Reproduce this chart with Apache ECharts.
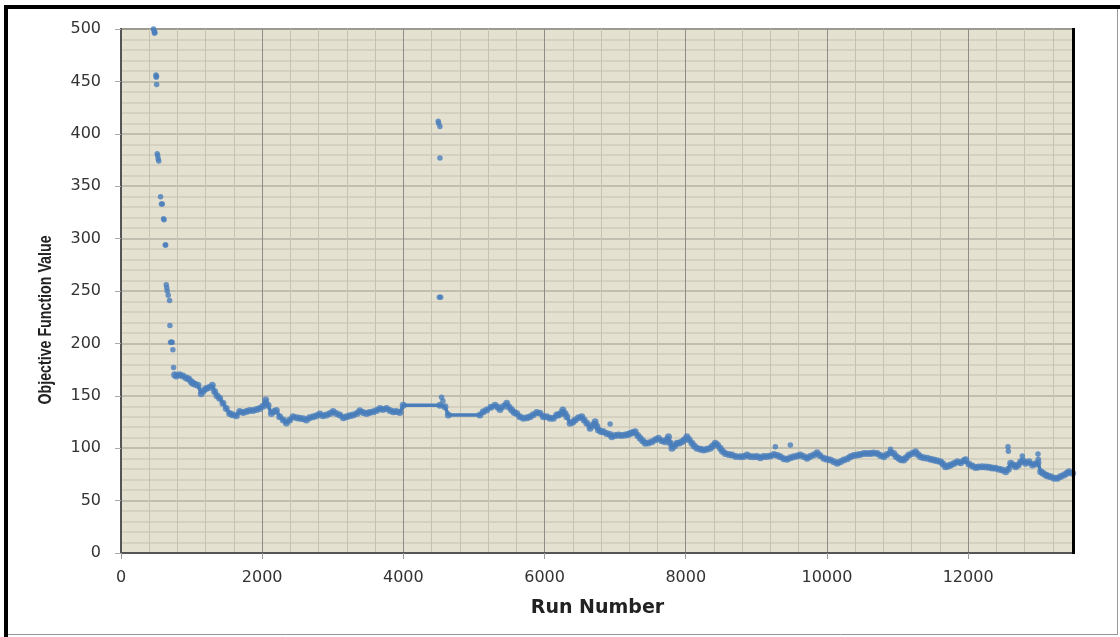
<!DOCTYPE html>
<html><head><meta charset="utf-8">
<script src="https://cdn.jsdelivr.net/npm/echarts@6/dist/echarts.min.js"></script>
<style>html,body{margin:0;padding:0;background:#fff}#c{width:1120px;height:637px}</style>
</head><body><div id="c"></div>
<script>
// Main band of runs (run number, objective value)
const bandRuns = [760,783,830,877,925,960,996,1019,1050,1090,1137,1170,1208,1250,1293,1326,1360,1397,1444,1491,1539,1580,1634,1681,1730,1776,1820,1870,1920,1965,2010,2050,2083,2130,2170,2201,2248,2300,2343,2390,2437,2490,2532,2580,2627,2670,2721,2770,2816,2860,2910,2960,3004,3050,3099,3150,3194,3240,3288,3340,3383,3430,3478,3520,3572,3620,3667,3710,3762,3810,3855,3900,3950,3998,4518,4589,4636,5085,5132,5180,5240,5298,5340,5369,5420,5464,5500,5535,5570,5605,5650,5700,5750,5794,5840,5889,5936,5983,6031,6078,6125,6173,6196,6230,6258,6290,6315,6362,6400,6433,6480,6528,6560,6599,6645,6680,6716,6740,6763,6800,6834,6880,6929,6953,7000,7047,7090,7142,7180,7213,7250,7284,7320,7355,7390,7426,7470,7521,7570,7614,7660,7709,7730,7756,7780,7804,7840,7875,7910,7946,7980,8017,8050,8088,8120,8159,8210,8252,8300,8348,8380,8418,8450,8489,8520,8560,8610,8655,8710,8773,8820,8868,8910,8962,9010,9057,9100,9151,9200,9250,9300,9341,9390,9435,9482,9529,9580,9624,9670,9719,9760,9813,9860,9900,9955,10000,10050,10100,10145,10190,10238,10290,10333,10380,10428,10470,10522,10570,10617,10660,10712,10760,10806,10850,10901,10947,10980,11018,11050,11089,11120,11160,11210,11255,11290,11326,11370,11421,11470,11515,11560,11610,11645,11681,11720,11752,11800,11847,11894,11940,11965,12011,12060,12106,12150,12201,12250,12295,12340,12390,12440,12485,12532,12570,12603,12640,12674,12710,12745,12780,12816,12863,12910,12950,12990,13028,13060,13099,13130,13170,13217,13265,13310,13358,13400,13430,13480];
const bandValues = [170,169,170,169,167,166,163.5,162,161,160,152,155,157,158,160,154,150,147.6,143,138,133,132,131,135,134,135,136,136,137,138,140,146,141,133,135,136,130,127,124,127,130,129,128.5,128,127,129,130,131,132.6,131,131.7,133,135,133,131.7,129,130,131,131.7,133,135.8,134,133,134,134.8,136,138,137,138,136,134.8,135,134,141,141,139.6,131.7,131.7,134.8,136.5,139,141,139,137,140,142.8,139,136.5,134,133,130,128.5,129,130,132,134,133.3,130,130,128.5,128.5,131.7,131.7,133,136.5,133,130,123.8,125,127,129,130,127,123.8,119,122,125.3,121,117.4,116,115.8,114,113,111,112,112.6,112,112.6,113,114,115,115.8,112,109.4,107,104.7,105,106.2,108,109.4,107,106.2,108,111,105,100,102,104.7,105,106.2,108,111,108,104.7,102,100,99,98.3,99,100,102,104.7,103,100,97,95,94,93.5,92,91.9,92,93.5,92,91.9,92,91,92,92,92.5,94,93,91.9,90,89.5,91,91.9,92.5,93.5,92,90.3,92,93.5,95.7,93,90.3,89.5,88.7,87,85.6,87,88.7,90,91.9,93,93.5,94,95,95,95,95.5,95,93,91.9,94,96,95,92,90.3,89,88.7,91,93.5,95,96.7,94,91.9,91,90.3,89.5,88.7,88,87,85,82.3,83,84,85.5,87,86,88,89,85,83,81.5,82,82.3,82,81.8,81,80.8,80,79.2,77.6,80,85.6,84,82.3,84,87,88,85.6,87,84,85,86,77.6,76,74.4,73.5,72.8,71.3,71.3,73,74.4,76,77.6,76];
// Scattered points: early descent and isolated outliers
const sparseRuns = [460,468,475,480,495,499,503,505,513,520,527,535,560,573,585,603,610,627,633,641,648,655,669,688,693,702,714,725,735,745,4494,4500,4518,4518,4510,4528,4541,4560,6929,9270,9482,10901,12565,12570,12768,12990,12995];
const sparseValues = [500,498,496,497,456,454,455,447,381,379,376,374,340,333,333,319,318,294,294,256,253,250,246,241,217,201,201,201,194,177,412,410,407,377,244,244,148.6,145,123,101.5,103,99,101.5,97,92.6,94.5,89.4];
const xTickStep = 2000, xMinorStep = 400, xMax = 13500;
const yTickStep = 50, yMax = 500;
const yTitle = 'Objective Function Value';
const xTitle = 'Run Number';

const BLUE = '#4A7EBB';
const band = bandRuns.map((r, i) => [r, bandValues[i]]);
const sparse = sparseRuns.map((r, i) => [r, sparseValues[i]]);

const chart = echarts.init(document.getElementById('c'), null, {renderer: 'canvas'});
chart.setOption({
  animation: false,
  backgroundColor: '#ffffff',
  grid: {left: 121, right: 46, top: 29, bottom: 84, show: true,
    backgroundColor: '#E4E1D1', borderColor: '#555', borderWidth: 2},
  xAxis: [
    {type: 'value', min: 0, max: xMax, interval: xMinorStep, position: 'bottom',
      axisLine: {show: false}, axisTick: {show: false}, axisLabel: {show: false},
      splitLine: {show: true, lineStyle: {color: '#C6C2B2', width: 1}}},
    {type: 'value', min: 0, max: xMax, interval: xTickStep, position: 'bottom',
      name: xTitle, nameLocation: 'middle', nameGap: 46,
      nameTextStyle: {fontFamily: 'DejaVu Sans', fontWeight: 'bold', fontSize: 19, color: '#222'},
      axisLine: {show: true, onZero: false, lineStyle: {color: '#555', width: 2}},
      axisTick: {show: true, length: 6, lineStyle: {color: '#999'}},
      axisLabel: {show: true, margin: 17, showMaxLabel: false, fontFamily: 'DejaVu Sans', fontSize: 16, color: '#333',
        formatter: v => String(v)},
      splitLine: {show: true, lineStyle: {color: '#8E8C84', width: 1}}}
  ],
  yAxis: {type: 'value', min: 0, max: yMax, interval: yTickStep,
    axisLine: {show: true, lineStyle: {color: '#555', width: 2}},
    axisTick: {show: true, length: 6, lineStyle: {color: '#aaa'}},
    axisLabel: {margin: 20, fontFamily: 'DejaVu Sans', fontSize: 16, color: '#333'},
    minorTick: {show: false, splitNumber: 5},
    splitLine: {show: true, lineStyle: {color: '#B5B2A4', width: 1.5}},
    minorSplitLine: {show: true, lineStyle: {color: '#CFCBBB', width: 1.5}}},
  series: [
    {type: 'line', xAxisIndex: 1, data: band, showSymbol: false, symbol: 'none',
      lineStyle: {color: BLUE, width: 3.5}, z: 3, silent: true},
    {type: 'scatter', xAxisIndex: 1, data: band, symbolSize: 7,
      itemStyle: {color: BLUE}, z: 4, silent: true},
    {type: 'scatter', xAxisIndex: 1, data: sparse, symbolSize: 5.5,
      itemStyle: {color: BLUE}, z: 4, silent: true}
  ],
  graphic: [
    {type: 'rect', shape: {x: 4, y: 5, width: 1116, height: 4}, style: {fill: '#000'}, silent: true},
    {type: 'rect', shape: {x: 4, y: 5, width: 4, height: 632}, style: {fill: '#000'}, silent: true},
    {type: 'line', shape: {x1: 1117.5, y1: 9, x2: 1117.5, y2: 635}, style: {stroke: '#999', lineWidth: 1}, silent: true},
    {type: 'line', shape: {x1: 8, y1: 634.5, x2: 1118, y2: 634.5}, style: {stroke: '#999', lineWidth: 1}, silent: true},
    {type: 'line', shape: {x1: 1073.5, y1: 28, x2: 1073.5, y2: 554}, style: {stroke: '#000', lineWidth: 3}, z: 10, silent: true},
    {type: 'text', x: 46, y: 320, rotation: Math.PI / 2, scaleX: 0.79, scaleY: 1,
      style: {text: yTitle, font: "bold 18px 'Liberation Sans', Arial, sans-serif", fill: '#222',
        textAlign: 'center', textVerticalAlign: 'middle'}, silent: true}
  ]
});
</script></body></html>
